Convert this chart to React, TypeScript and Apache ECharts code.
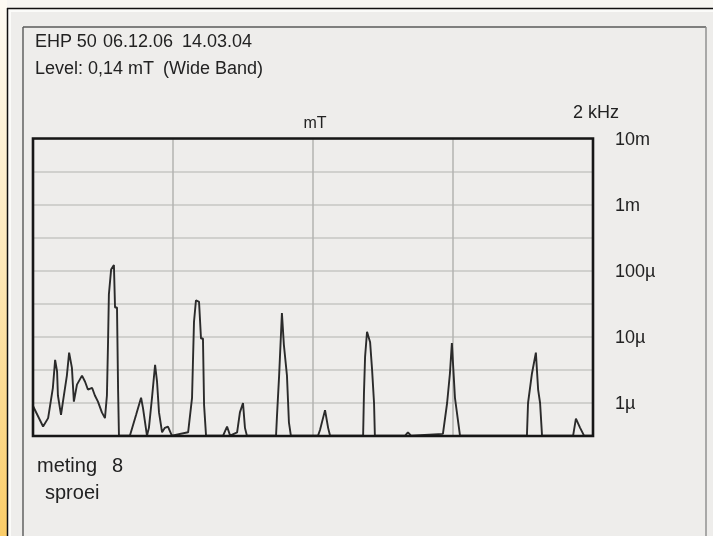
import React, { useEffect, useRef } from "react";
import * as echarts from "echarts";

// Frequency (Hz) of each trace point
const freqHz = [
  0, 36, 54, 71, 79, 86, 89, 100, 107, 121, 129, 139, 146, 157, 175, 186, 196, 211, 221, 232, 246, 257,
  264, 268, 271, 279, 289, 293, 300, 304, 307, 346, 368, 386, 393, 407, 414, 425, 436, 443, 450, 461,
  471, 482, 496, 554, 568, 571, 575, 582, 593, 600, 607, 611, 618, 679, 693, 704, 729, 739, 750, 757,
  764, 868, 871, 879, 886, 889, 896, 907, 914, 921, 1018, 1025, 1043, 1054, 1061, 1179, 1182, 1186,
  1193, 1204, 1211, 1218, 1221, 1329, 1339, 1350, 1464, 1479, 1489, 1496, 1500, 1507, 1525, 1764,
  1768, 1782, 1796, 1804, 1811, 1818, 1929, 1939, 1954, 1968, 2000,
];

// Level in µ units (1 = 1µ, 1000 = 1m)
const levelMicro = [
  0.9, 0.44, 0.59, 1.7, 4.5, 3.0, 1.3, 0.66, 1.05, 2.6, 5.8, 3.4, 1.05, 1.9, 2.6, 2.1, 1.6, 1.7, 1.3, 1.05, 0.72, 0.59,
  1.3, 8.3, 44, 105, 123, 28, 28, 1.5, 0.32, 0.32, 0.66, 1.2, 0.83, 0.32, 0.42, 1.2, 3.8, 2.1, 0.72, 0.36,
  0.42, 0.44, 0.32, 0.36, 1.2, 3.8, 17, 36, 34, 9.5, 9.5, 0.93, 0.32, 0.32, 0.44, 0.32, 0.36, 0.72, 1.0, 0.42,
  0.32, 0.32, 0.59, 2.6, 12, 23, 7.6, 2.6, 0.51, 0.32, 0.32, 0.39, 0.78, 0.42, 0.32, 0.32, 1.4, 5.0,
  12, 8.3, 3.2, 1.0, 0.32, 0.32, 0.36, 0.32, 0.34, 1.0, 2.8, 8.1, 4.0, 1.2, 0.32, 0.32,
  1.0, 2.8, 5.8, 1.6, 1.0, 0.32, 0.32, 0.58, 0.42, 0.32, 0.32,
];

// Decade tick labels (log10 of µ value -> label)
const tickExp = [4, 3, 2, 1, 0];
const tickLabels = ["10m", "1m", "100µ", "10µ", "1µ"];

const SANS = '"Liberation Sans", Arial, sans-serif';

export default function App() {
  const ref = useRef<HTMLDivElement>(null);

  useEffect(() => {
    if (!ref.current) return;
    const chart = echarts.init(ref.current, undefined, { renderer: "svg" });
    const data = freqHz.map((f, i) => [f, Math.log10(levelMicro[i])]);

    const txt = (x: number, y: number, text: string, size: number, align = "left") => ({
      type: "text",
      x,
      y,
      style: {
        text,
        fontSize: size,
        fontFamily: SANS,
        fill: "#222",
        align,
        verticalAlign: "middle",
      },
    });
    const ln = (x1: number, y1: number, x2: number, y2: number, stroke: string, w: number) => ({
      type: "line",
      z: -50,
      shape: { x1, y1, x2, y2 },
      style: { stroke, lineWidth: w },
    });

    chart.setOption({
      animation: false,
      grid: {
        left: 33,
        right: 120,
        top: 139,
        bottom: 100,
        show: false,
      },
      xAxis: {
        type: "value",
        min: 0,
        max: 2000,
        interval: 500,
        axisLine: { show: false },
        axisTick: { show: false },
        axisLabel: { show: false },
        splitLine: { show: true, lineStyle: { color: "#b3b3b0", width: 1.5 } },
      },
      yAxis: {
        type: "value",
        position: "right",
        min: -0.5,
        max: 4,
        interval: 0.5,
        axisLine: { show: false },
        axisTick: { show: false },
        splitLine: { show: true, lineStyle: { color: "#c6c6c3", width: 1.5 } },
        axisLabel: {
          margin: 22,
          fontSize: 18,
          fontFamily: SANS,
          color: "#222",
          padding: [6, 0, 0, 0],
          formatter: (v: number) => {
            const i = tickExp.indexOf(v);
            return i >= 0 ? tickLabels[i] : "";
          },
        },
      },
      series: [
        {
          type: "line",
          data,
          showSymbol: false,
          clip: true,
          lineStyle: { color: "#2b2b2b", width: 1.9 },
        },
      ],
      graphic: [
        { type: "rect", z: -100, shape: { x: 0, y: 0, width: 713, height: 536 }, style: { fill: "#f7f6f2" } },
        {
          type: "rect",
          z: -99,
          shape: { x: 0, y: 0, width: 7, height: 536 },
          style: {
            fill: {
              type: "linear",
              x: 0,
              y: 0,
              x2: 0,
              y2: 1,
              colorStops: [
                { offset: 0, color: "#fdfbf4" },
                { offset: 0.5, color: "#fde8b8" },
                { offset: 1, color: "#fbcd68" },
              ],
            },
          },
        },
        { type: "rect", z: -98, shape: { x: 8, y: 9, width: 705, height: 527 }, style: { fill: "#fbfbf9" } },
        { type: "rect", z: -97, shape: { x: 11, y: 12, width: 702, height: 524 }, style: { fill: "#eeedeb" } },
        ln(7.5, 8, 7.5, 536, "#111", 1.5),
        ln(7, 8.5, 713, 8.5, "#111", 1.5),
        ln(23, 27, 23, 536, "#6a6a6a", 1.6),
        ln(23, 27, 706, 27, "#5a5a5a", 1.6),
        ln(706, 27, 706, 536, "#8a8a8a", 1.4),
        // plot frame
        {
          type: "rect",
          z: 100,
          shape: { x: 33, y: 138.5, width: 560, height: 297.5 },
          style: { fill: "none", stroke: "#161616", lineWidth: 2.6 },
        },
        txt(35, 41, "EHP 50", 18),
        txt(103, 41, "06.12.06", 18),
        txt(182, 41, "14.03.04", 18),
        txt(35, 68, "Level: 0,14 mT", 18),
        txt(163, 68, "(Wide Band)", 18),
        txt(315, 122, "mT", 16, "center"),
        txt(573, 112, "2 kHz", 18),
        txt(37, 465, "meting", 20),
        txt(112, 465, "8", 20),
        txt(45, 492, "sproei", 20),
      ],
    });

    return () => chart.dispose();
  }, []);

  return (
    <div
      ref={ref}
      style={{ position: "fixed", left: 0, top: 0, width: 713, height: 536 }}
    />
  );
}
